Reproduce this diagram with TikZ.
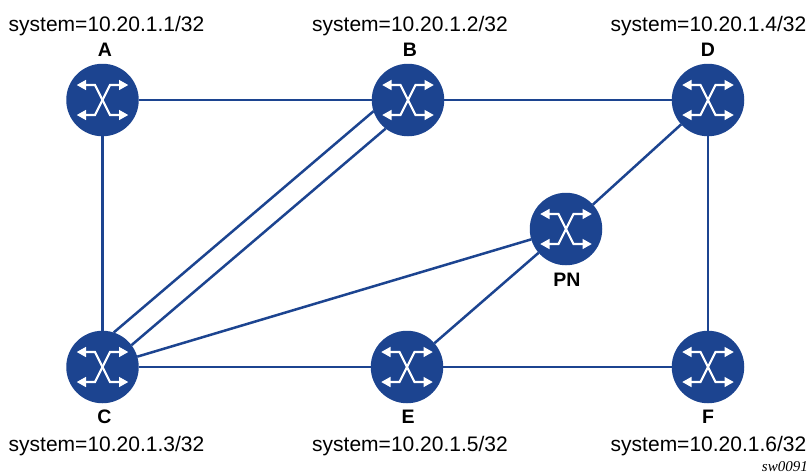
\documentclass[tikz,border=0pt]{standalone}
\usepackage{fontspec}
\setmainfont{Liberation Sans}
\newfontfamily\tagfont{Liberation Serif}
\definecolor{nokia}{HTML}{1C4490}
\tikzset{
  router/.style={circle,fill=nokia,minimum size=72.5pt,inner sep=0pt,outer sep=0pt},
  link/.style={draw=nokia,line width=2.5pt},
  sysl/.style={font=\fontsize{21}{24}\selectfont,text=black,inner sep=0pt,anchor=base},
  rname/.style={font=\fontsize{19.5}{23}\selectfont\bfseries,text=black,inner sep=0pt,anchor=base},
  tag/.style={font=\fontsize{15}{18}\tagfont\itshape,text=black,inner sep=0pt,anchor=base east},
  pics/swx/.style={code={
    \begin{scope}[white,line width=2.2pt]
      \draw (-19,15) -- (-7.5,15) -- (7.5,-15) -- (19,-15);
      \draw (-19,-15) -- (-7.5,-15) -- (7.5,15) -- (19,15);
      \foreach \sx/\sy in {1/1,1/-1,-1/1,-1/-1}
        \fill (\sx*25.7,\sy*15) -- (\sx*16.5,\sy*15+\sy*5.2) -- (\sx*16.5,\sy*15-\sy*5.2) -- cycle;
    \end{scope}
  }}
}
\begin{document}
\begin{tikzpicture}[x=1pt,y=-1pt]
\useasboundingbox[fill=white] (0,0) rectangle (808,475);
\node[router] (A) at (102.5,100) {};
\node[router] (B) at (408,100) {};
\node[router] (D) at (708,100) {};
\node[router] (PN) at (566,229) {};
\node[router] (C) at (102.5,367) {};
\node[router] (E) at (407,367) {};
\node[router] (F) at (708,367) {};
\draw[link] (A) -- (B);
\draw[link] (B) -- (D);
\draw[link] (A) -- (C);
\draw[link] (D) -- (F);
\draw[link] (C) -- (E);
\draw[link] (E) -- (F);
\draw[link] (D) -- (PN);
\draw[link] (PN) -- (E);
\draw[link] (PN) -- (C);
\draw[link] (C.72) -- (B.198);
\draw[link] (C.37) -- (B.232);
\foreach \n in {A,B,D,PN,C,E,F} \pic at (\n) {swx};
\node[sysl] (la) at (106.5,31) {system=10.20.1.1/32};
\node[sysl] (lb) at (410,31) {system=10.20.1.2/32};
\node[sysl] (ld) at (708.5,31) {system=10.20.1.4/32};
\node[sysl] (lc) at (106.5,451) {system=10.20.1.3/32};
\node[sysl] (le) at (410,451) {system=10.20.1.5/32};
\node[sysl] (lf) at (708.5,451) {system=10.20.1.6/32};
\node[rname] (na) at (105,56.5) {A};
\node[rname] (nb) at (410,56.5) {B};
\node[rname] (nd) at (708,56.5) {D};
\node[rname] (npn) at (567,286) {PN};
\node[rname] (nc) at (104.5,423.5) {C};
\node[rname] (ne) at (408,423.5) {E};
\node[rname] (nf) at (708,423.5) {F};
\node[tag] (sw) at (808,471) {sw0091};
\end{tikzpicture}
\end{document}
